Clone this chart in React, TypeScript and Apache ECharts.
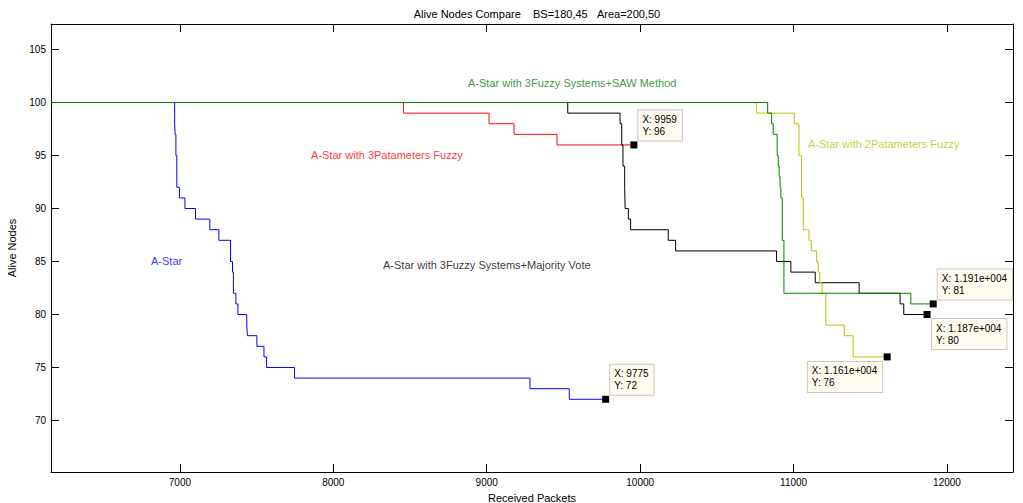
import React, { useEffect, useRef } from 'react';
import * as echarts from 'echarts';

// ---- axis ranges & ticks ----
const xMin = 6160;
const xMax = 12430;
const yMin = 65.14;
const yMax = 107.41;
const xTicks = [7000, 8000, 9000, 10000, 11000, 12000];
const yTicks = [70, 75, 80, 85, 90, 95, 100, 105];

// ---- series data (x where value changes, new value) ----
const blueX = [6966, 6966, 6969, 6974, 6980, 6997, 7033, 7102, 7195, 7254, 7330, 7343, 7349, 7365, 7378, 7436, 7440, 7502, 7548, 7565, 7747, 9282, 9538, 9775];
const blueY = [100, 98, 97, 95, 92, 91, 90, 89, 88, 87, 85, 84, 82, 81, 80, 79, 78, 77, 76, 75, 74, 73, 72, 72];

const redX = [8457, 8457, 9015, 9178, 9458, 9959];
const redY = [100, 99, 98, 97, 96, 96];

const blackX = [9528, 9528, 9869, 9880, 9888, 9899, 9902, 9923, 9938, 10183, 10231, 10889, 10982, 11141, 11427, 11694, 11718, 11870];
const blackY = [100, 99, 98, 96, 94, 92, 90, 89, 88, 87, 86, 85, 84, 83, 82, 81, 80, 80];

const yellowX = [10759, 10759, 11004, 11035, 11052, 11063, 11100, 11115, 11150, 11160, 11171, 11186, 11210, 11330, 11388, 11610];
const yellowY = [100, 99, 98, 95, 91, 88, 87, 86, 85, 84, 83, 82, 79, 78, 76, 76];

const greenX = [6160, 10831, 10857, 10867, 10893, 10900, 10906, 10912, 10917, 10926, 10937, 11764, 11910];
const greenY = [100, 99, 98, 97, 95, 94, 93, 92, 91, 87, 82, 81, 81];

// ---- in-plot text annotations ----
const annoText = [
  'A-Star with 3Fuzzy Systems+SAW Method',
  'A-Star with 3Patameters Fuzzy',
  'A-Star with 2Patameters Fuzzy',
  'A-Star',
  'A-Star with 3Fuzzy Systems+Majority Vote',
];
const annoX = [8878, 7855, 11094, 6812, 8324];
const annoY = [101.86, 95.06, 96.1, 85.04, 84.7];

// ---- data tips ----
const tipX = [9959, 9775, 11910, 11870, 11610];
const tipY = [96, 72, 81, 80, 76];

const COLORS = {
  blue: '#0000ff',
  red: '#ff0000',
  black: '#000000',
  yellow: '#bfbf00',
  green: '#008000',
};
const annoColors = [COLORS.green, COLORS.red, COLORS.yellow, COLORS.blue, COLORS.black];
const tipPlacement = ['ur', 'ur', 'ur', 'dr', 'dl'];

const FONT = '"Liberation Sans", Arial, sans-serif';

function fmtTip(v: number): string {
  if (v >= 10000) return (v / 10000).toFixed(3) + 'e+004';
  return String(v);
}

function mkLine(name: string, xs: number[], ys: number[], color: string, z: number) {
  return {
    type: 'line',
    name,
    data: xs.map((x, i) => [x, ys[i]]),
    step: 'end',
    symbol: 'none',
    showSymbol: false,
    silent: true,
    z,
    lineStyle: { color, width: 1, opacity: 1 },
    itemStyle: { color },
  };
}

function placement(p: string) {
  if (p === 'ur') return { position: [8, -1], align: 'left', verticalAlign: 'bottom' };
  if (p === 'dr') return { position: [8.5, 8], align: 'left', verticalAlign: 'top' };
  return { position: [-1.5, 8.5], align: 'right', verticalAlign: 'top' };
}

export default function App() {
  const ref = useRef<HTMLDivElement>(null);
  useEffect(() => {
    if (!ref.current) return;
    const chart = echarts.init(ref.current, undefined, { renderer: 'svg' });
    const axisLineStyle = { color: '#000', width: 1 };
    const option: any = {
      animation: false,
      backgroundColor: '#ffffff',
      title: {
        text: 'Alive Nodes Compare\u00a0\u00a0\u00a0\u00a0BS=180,45\u00a0\u00a0\u00a0Area=200,50',
        left: 532,
        top: 3,
        textAlign: 'center',
        textStyle: { fontSize: 11, fontWeight: 'normal', color: '#000', fontFamily: FONT },
      },
      grid: {
        left: 51,
        top: 24,
        width: 962,
        height: 448,
        show: false,
        containLabel: false,
        outerBoundsMode: 'none',
      },
      xAxis: [
        {
          type: 'value',
          min: xMin,
          max: xMax,
          position: 'bottom',
          name: 'Received Packets',
          nameLocation: 'middle',
          nameGap: 14,
          nameTextStyle: { fontSize: 11, color: '#000', fontFamily: FONT, verticalAlign: 'top', lineHeight: 12 },
          axisLine: { show: true, onZero: false, lineStyle: axisLineStyle },
          axisTick: { show: true, inside: true, length: 8, customValues: xTicks, lineStyle: axisLineStyle },
          axisLabel: {
            show: true,
            customValues: xTicks,
            formatter: (v: number) => String(v),
            color: '#000',
            fontSize: 10,
            margin: 5,
            fontFamily: FONT,
          },
          splitLine: { show: false },
        },
        {
          type: 'value',
          min: xMin,
          max: xMax,
          position: 'top',
          axisLine: { show: true, onZero: false, lineStyle: axisLineStyle },
          axisTick: { show: true, inside: true, length: 8, customValues: xTicks, lineStyle: axisLineStyle },
          axisLabel: { show: false },
          splitLine: { show: false },
        },
      ],
      yAxis: [
        {
          type: 'value',
          min: yMin,
          max: yMax,
          position: 'left',
          name: 'Alive Nodes',
          nameLocation: 'middle',
          nameGap: 34,
          nameRotate: 90,
          nameTextStyle: { fontSize: 11, color: '#000', fontFamily: FONT },
          axisLine: { show: true, onZero: false, lineStyle: axisLineStyle },
          axisTick: { show: true, inside: true, length: 8, customValues: yTicks, lineStyle: axisLineStyle },
          axisLabel: {
            show: true,
            customValues: yTicks,
            formatter: (v: number) => String(v),
            color: '#000',
            fontSize: 10,
            margin: 5,
            fontFamily: FONT,
          },
          splitLine: { show: false },
        },
        {
          type: 'value',
          min: yMin,
          max: yMax,
          position: 'right',
          axisLine: { show: true, onZero: false, lineStyle: axisLineStyle },
          axisTick: { show: true, inside: true, length: 8, customValues: yTicks, lineStyle: axisLineStyle },
          axisLabel: { show: false },
          splitLine: { show: false },
        },
      ],
      series: [
        mkLine('A-Star', blueX, blueY, COLORS.blue, 2),
        mkLine('A-Star with 3Patameters Fuzzy', redX, redY, COLORS.red, 3),
        mkLine('A-Star with 3Fuzzy Systems+Majority Vote', blackX, blackY, COLORS.black, 4),
        mkLine('A-Star with 2Patameters Fuzzy', yellowX, yellowY, COLORS.yellow, 5),
        mkLine('A-Star with 3Fuzzy Systems+SAW Method', greenX, greenY, COLORS.green, 6),
        {
          type: 'scatter',
          name: 'annotations',
          silent: true,
          symbolSize: 0,
          z: 7,
          data: annoX.map((x, i) => ({
            value: [x, annoY[i]],
            label: {
              show: true,
              position: 'right',
              distance: 0,
              formatter: annoText[i],
              color: annoColors[i],
              fontSize: 11,
              fontFamily: FONT,
            },
          })),
        },
        {
          type: 'scatter',
          name: 'datatips',
          silent: true,
          symbol: 'rect',
          symbolSize: 7,
          z: 8,
          itemStyle: { color: '#000', opacity: 1 },
          data: tipX.map((x, i) => ({
            value: [x, tipY[i]],
            itemStyle: { color: '#000', opacity: 1 },
            label: {
              show: true,
              ...placement(tipPlacement[i]),
              formatter: (p: any) => `{t|X: ${fmtTip(p.value[0])}}\n{t|Y: ${p.value[1]}}`,
              rich: {
                t: { align: 'left', color: '#000', fontSize: 10, lineHeight: 12, fontFamily: FONT },
              },
              color: '#000',
              fontSize: 10,
              lineHeight: 12,
              fontFamily: FONT,
              backgroundColor: '#fffbee',
              borderColor: '#c8c8c8',
              borderWidth: 1,
              padding: [3, 5, 3, 4],
            },
          })),
        },
      ],
    };
    chart.setOption(option);
    return () => chart.dispose();
  }, []);
  return (
    <div
      ref={ref}
      style={{ position: 'fixed', left: 0, top: 0, width: 1023, height: 503, background: '#fff' }}
    />
  );
}
